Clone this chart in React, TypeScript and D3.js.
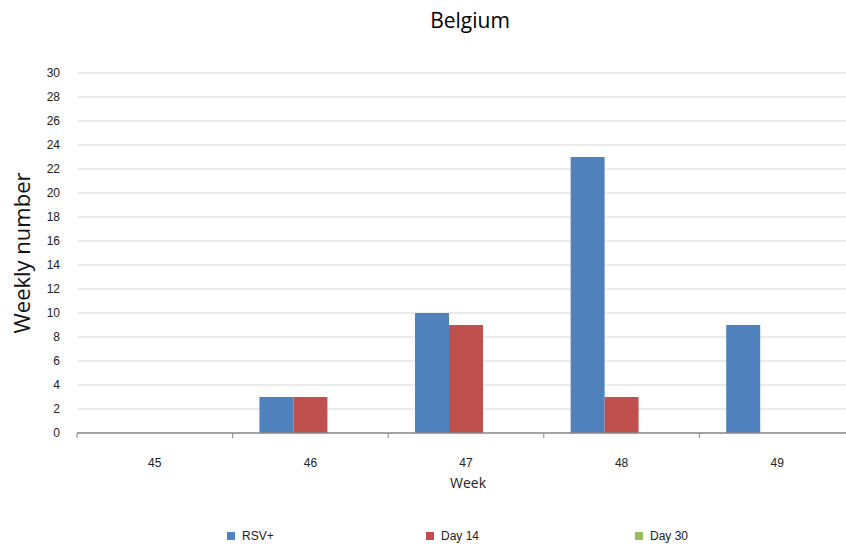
import React from "react";
import * as d3 from "d3";

const weeks = ["45", "46", "47", "48", "49"];
const seriesNames = ["RSV+", "Day 14", "Day 30"];
const rsv = [0, 3, 10, 23, 9];
const day14 = [0, 3, 9, 3, 0];
const day30 = [0, 0, 0, 0, 0];
const yTicks = [0, 2, 4, 6, 8, 10, 12, 14, 16, 18, 20, 22, 24, 26, 28, 30];
const colors = ["#4f81bd", "#c0504d", "#9bbb59"];

const W = 846;
const H = 544;
const left = 77;
const right = 855;
const top = 73;
const bottom = 433;

export default function App() {
  const series = [rsv, day14, day30];
  const x = d3.scaleBand<string>().domain(weeks).range([left, right]).paddingInner(0).paddingOuter(0);
  const inner = d3
    .scaleBand<string>()
    .domain(seriesNames)
    .range([0, x.bandwidth()])
    .paddingInner(0)
    .paddingOuter(0.79);
  const y = d3.scaleLinear().domain([0, 30]).range([bottom, top]);
  const font = "Liberation Sans, Arial, sans-serif";
  const legendX = [227, 426, 635];

  return (
    <svg width={W} height={H} style={{ position: "absolute", left: 0, top: 0 }} fontFamily={font}>
      <rect x={0} y={0} width={W} height={H} fill="#fff" />
      <text x={470} y={28} textAnchor="middle" fontSize={21} fontFamily="Open Sans, sans-serif" fill="#000">
        Belgium
      </text>
      {yTicks.map((t) => (
        <g key={t}>
          {t > 0 && <line x1={left} x2={right} y1={y(t)} y2={y(t)} stroke="#d9d9d9" strokeWidth={1} />}
          <text x={60} y={y(t) + 4} textAnchor="end" fontSize={12} fill="#222">
            {t}
          </text>
        </g>
      ))}
      {series.map((vals, si) =>
        weeks.map((w, i) => {
          const v = vals[i];
          if (v <= 0) return null;
          return (
            <rect
              key={si + "-" + w}
              x={(x(w) as number) + (inner(seriesNames[si]) as number)}
              y={y(v)}
              width={inner.bandwidth()}
              height={y(0) - y(v)}
              fill={colors[si]}
            />
          );
        })
      )}
      <line x1={left} x2={right} y1={bottom} y2={bottom} stroke="#868686" strokeWidth={1.5} />
      {weeks.map((w) => (
        <line key={"tk" + w} x1={x(w) as number} x2={x(w) as number} y1={bottom} y2={bottom + 5} stroke="#868686" strokeWidth={1} />
      ))}
      {weeks.map((w) => (
        <text key={"lb" + w} x={(x(w) as number) + x.bandwidth() / 2} y={467} textAnchor="middle" fontSize={12} fill="#222">
          {w}
        </text>
      ))}
      <text x={468} y={488} textAnchor="middle" fontSize={14} fill="#222" fontFamily="Open Sans, sans-serif">
        Week
      </text>
      <text
        transform={`translate(30,${253}) rotate(-90)`}
        textAnchor="middle"
        fontSize={22}
        fill="#111"
        fontFamily="Open Sans, sans-serif"
      >
        Weekly number
      </text>
      {seriesNames.map((s, i) => (
        <g key={"lg" + s}>
          <rect x={legendX[i]} y={532} width={8} height={8} fill={colors[i]} />
          <text x={legendX[i] + 15} y={540} fontSize={12} fill="#222">
            {s}
          </text>
        </g>
      ))}
    </svg>
  );
}
